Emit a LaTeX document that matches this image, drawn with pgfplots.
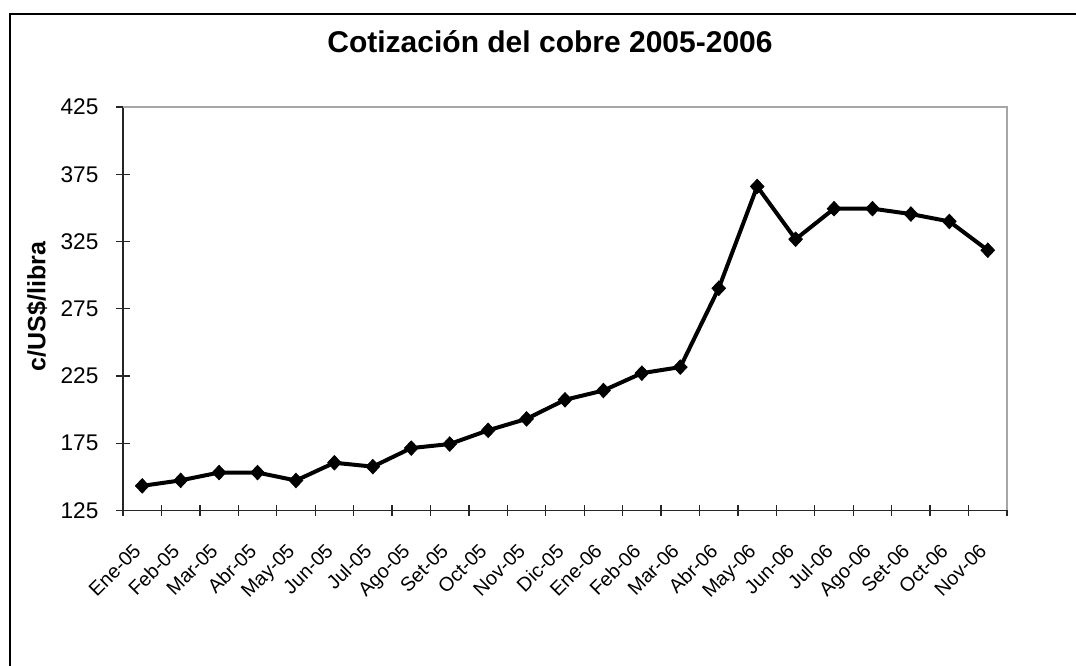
\documentclass[border=0pt]{standalone}
\usepackage{fontspec}
\setmainfont{Liberation Sans}
\usepackage{pgfplots}
\pgfplotsset{compat=1.18}
\pgfplotstableread{
x y
0 143.3
1 147.4
2 153.2
3 153.2
4 147.3
5 160.5
6 157.6
7 171.4
8 174.4
9 184.6
10 193.1
11 207.3
12 214.2
13 227.1
14 231.6
15 290.2
16 365.9
17 326.7
18 349.4
19 349.4
20 345.4
21 339.9
22 318.5
}\datatable
\begin{document}
\begin{tikzpicture}
\path[use as bounding box] (0,0) rectangle (807pt,499.5pt);
\draw[line width=1.5pt, black] (7.5pt,-10pt) -- (7.5pt,489pt) -- (820pt,489pt);
\node[anchor=base, font=\bfseries\fontsize{22.5}{27}\selectfont] at (412.5pt,459.75pt) {Cotización del cobre 2005-2006};
\node[rotate=90, font=\bfseries\fontsize{18.75}{22}\selectfont] at (27.75pt,269.6pt) {c/US\$/libra};
\begin{axis}[
  at={(92.25pt,116.625pt)}, anchor=south west,
  width=663pt, height=302.625pt, scale only axis,
  xmin=-0.5, xmax=22.5, ymin=125, ymax=425,
  ytick={125,175,...,425},
  axis x line*=bottom, axis y line*=left,
  axis line style={line width=1.2pt, black!85, -},
  xtick={0,...,22},
  xticklabels={Ene-05,Feb-05,Mar-05,Abr-05,May-05,Jun-05,Jul-05,Ago-05,Set-05,Oct-05,Nov-05,Dic-05,Ene-06,Feb-06,Mar-06,Abr-06,May-06,Jun-06,Jul-06,Ago-06,Set-06,Oct-06,Nov-06},
  major x tick style={draw=none},
  minor xtick={-0.5,0.5,...,22.5},
  tick align=center, major tick length=11pt, minor tick length=8.5pt,
  every tick/.style={line width=1pt, black!85},
  /pgf/number format/assume math mode=true,
  xticklabel style={xshift=-7.5pt, yshift=-13.6pt, rotate=45, anchor=north east, font=\fontsize{14.8}{17}\selectfont},
  yticklabel style={font=\fontsize{17}{20}\selectfont, xshift=-9.4pt},
  clip=false,
]
\draw[gray!70, line width=1.2pt] (rel axis cs:0,1) -- (rel axis cs:1,1) -- (rel axis cs:1,0);
\addplot[black, line width=3pt, mark=diamond*, mark size=5.5pt, mark options={line width=0.5pt, xscale=1.25}] table[x=x,y=y] {\datatable};
\end{axis}
\end{tikzpicture}
\end{document}
